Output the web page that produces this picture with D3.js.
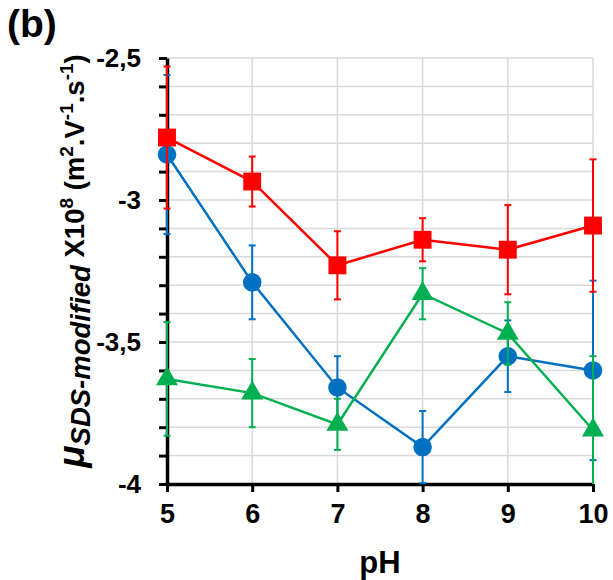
<!DOCTYPE html>
<html>
<head>
<meta charset="utf-8">
<script src="https://cdn.jsdelivr.net/npm/d3@7"></script>
<style>
  html, body { margin: 0; padding: 0; background: #fff; }
  svg { display: block; font-family: "Liberation Sans", Arial, sans-serif; }
</style>
</head>
<body>
<svg id="chart" width="613" height="580"></svg>
<script>
// pH values on the x axis
const pH = [5, 6, 7, 8, 9, 10];

// Mobility (x10^8 m².V⁻¹.s⁻¹) and error bar half-widths per series
const redValues   = [-2.78, -2.935, -3.23, -3.14, -3.175, -3.09];
const redErrors   = [0.25, 0.088, 0.12, 0.076, 0.157, 0.233];
const blueValues  = [-2.84, -3.29, -3.66, -3.87, -3.55, -3.60];
const blueErrors  = [0.28, 0.13, 0.11, 0.127, 0.126, 0.316];
const greenValues = [-3.63, -3.68, -3.79, -3.33, -3.47, -3.81];
const greenErrors = [0.20, 0.12, 0.09, 0.09, 0.11, 0.26];

// Axis ticks
const xTicks = [5, 6, 7, 8, 9, 10];
const yMajorTicks = [-4, -3.5, -3, -2.5];
const yMinorTicks = [-4, -3.9, -3.8, -3.7, -3.6, -3.5, -3.4, -3.3, -3.2, -3.1, -3.0, -2.9, -2.8, -2.7, -2.6, -2.5];

const svg = d3.select("#chart");

const x = d3.scaleLinear().domain([5, 10]).range([167, 593]);
const y = d3.scaleLinear().domain([-4, -2.5]).range([484, 58]);

// Grid
const grid = svg.append("g").attr("stroke", "#d9d9d9").attr("stroke-width", 1.5);
grid.selectAll("line.h").data(yMinorTicks.filter(v => v > -4)).join("line")
  .attr("class", "h")
  .attr("x1", x(5)).attr("x2", x(10))
  .attr("y1", d => y(d)).attr("y2", d => y(d));
grid.selectAll("line.v").data(xTicks.filter(v => v > 5)).join("line")
  .attr("class", "v")
  .attr("x1", d => x(d)).attr("x2", d => x(d))
  .attr("y1", y(-2.5)).attr("y2", y(-4));

// Axes — decimal comma, plain hyphen for the minus sign
const fmt = d => String(d).replace(".", ",");

const yMinorAxis = svg.append("g")
  .attr("transform", `translate(${x(5)},0)`)
  .call(d3.axisLeft(y).tickValues(yMinorTicks).tickSize(8).tickSizeOuter(0).tickFormat(""));
yMinorAxis.select(".domain").attr("stroke", "#000").attr("stroke-width", 3.5);
yMinorAxis.selectAll(".tick line").attr("stroke", "#000").attr("stroke-width", 3);

const yLabelAxis = svg.append("g")
  .attr("transform", `translate(${x(5)},0)`)
  .call(d3.axisLeft(y).tickValues(yMajorTicks).tickSize(0).tickPadding(26).tickFormat(fmt));
yLabelAxis.select(".domain").remove();
yLabelAxis.selectAll(".tick text")
  .attr("font-family", "Liberation Sans, Arial, sans-serif")
  .attr("font-size", 26).attr("font-weight", "bold").attr("fill", "#000");

const xAxis = svg.append("g")
  .attr("transform", `translate(0,${y(-4)})`)
  .call(d3.axisBottom(x).tickValues(xTicks).tickSize(8).tickSizeOuter(0).tickPadding(12).tickFormat(d3.format("d")));
xAxis.select(".domain").attr("stroke", "#000").attr("stroke-width", 3.5);
xAxis.selectAll(".tick line").attr("stroke", "#000").attr("stroke-width", 3);
xAxis.selectAll(".tick text")
  .attr("font-family", "Liberation Sans, Arial, sans-serif")
  .attr("font-size", 27).attr("font-weight", "bold").attr("fill", "#000");

// Series
const series = [
  { name: "blue",  color: "#0070c0", values: blueValues,  errors: blueErrors,  marker: "circle" },
  { name: "green", color: "#00b050", values: greenValues, errors: greenErrors, marker: "triangle" },
  { name: "red",   color: "#ff0000", values: redValues,   errors: redErrors,   marker: "square" }
];

const [yMin, yMax] = y.domain();
const line = d3.line().x(d => x(d.x)).y(d => y(d.v));

series.forEach(s => {
  const pts = pH.map((p, i) => ({ x: p, v: s.values[i], e: s.errors[i] }));
  const g = svg.append("g").attr("class", "series-" + s.name);

  // error bars (clipped to the axis range)
  pts.forEach(d => {
    const lo = d.v - d.e, hi = d.v + d.e;
    const loC = Math.max(lo, yMin), hiC = Math.min(hi, yMax);
    g.append("line")
      .attr("x1", x(d.x)).attr("x2", x(d.x))
      .attr("y1", y(loC)).attr("y2", y(hiC))
      .attr("stroke", s.color).attr("stroke-width", 2);
    [[lo, loC], [hi, hiC]].forEach(([v, c]) => {
      if (v === c) {
        g.append("line")
          .attr("x1", x(d.x) - 3.5).attr("x2", x(d.x) + 3.5)
          .attr("y1", y(v)).attr("y2", y(v))
          .attr("stroke", s.color).attr("stroke-width", 2);
      }
    });
  });

  g.append("path").datum(pts)
    .attr("d", line)
    .attr("fill", "none").attr("stroke", s.color).attr("stroke-width", 2.5);

  const sym = s.marker === "circle" ? d3.symbolCircle
            : s.marker === "square" ? d3.symbolSquare : d3.symbolTriangle;
  const size = s.marker === "circle" ? 270 : s.marker === "square" ? 320 : 210;
  g.selectAll("path.m").data(pts).join("path")
    .attr("class", "m")
    .attr("transform", d => `translate(${x(d.x)},${y(d.v)})`)
    .attr("d", d3.symbol(sym, size))
    .attr("fill", s.color);
});

// Panel letter
svg.append("text")
  .attr("x", 7).attr("y", 37)
  .attr("font-size", 39).attr("font-weight", "bold").attr("fill", "#000")
  .text("(b)");

// X axis title
svg.append("text")
  .attr("x", x(7.5)).attr("y", 573)
  .attr("text-anchor", "middle")
  .attr("font-size", 31).attr("font-weight", "bold").attr("fill", "#000")
  .text("pH");

// Y axis title
const yt = svg.append("text")
  .attr("transform", `translate(84,261) rotate(-90)`)
  .attr("text-anchor", "middle")
  .attr("font-size", 27.5).attr("font-weight", "bold").attr("fill", "#000");
yt.append("tspan").attr("font-style", "italic").attr("font-size", 37).text("μ");
yt.append("tspan").attr("font-style", "italic").attr("dy", 6).text("SDS-modified");
yt.append("tspan").attr("dy", -6).text(" X10");
yt.append("tspan").attr("dy", -11).attr("font-size", 19).text("8");
yt.append("tspan").attr("dy", 11).text(" (m");
yt.append("tspan").attr("dy", -11).attr("font-size", 19).text("2");
yt.append("tspan").attr("dy", 11).text(".V");
yt.append("tspan").attr("dy", -11).attr("font-size", 19).text("-1");
yt.append("tspan").attr("dy", 11).text(".s");
yt.append("tspan").attr("dy", -11).attr("font-size", 19).text("-1");
yt.append("tspan").attr("dy", 11).text(")");
</script>
</body>
</html>
